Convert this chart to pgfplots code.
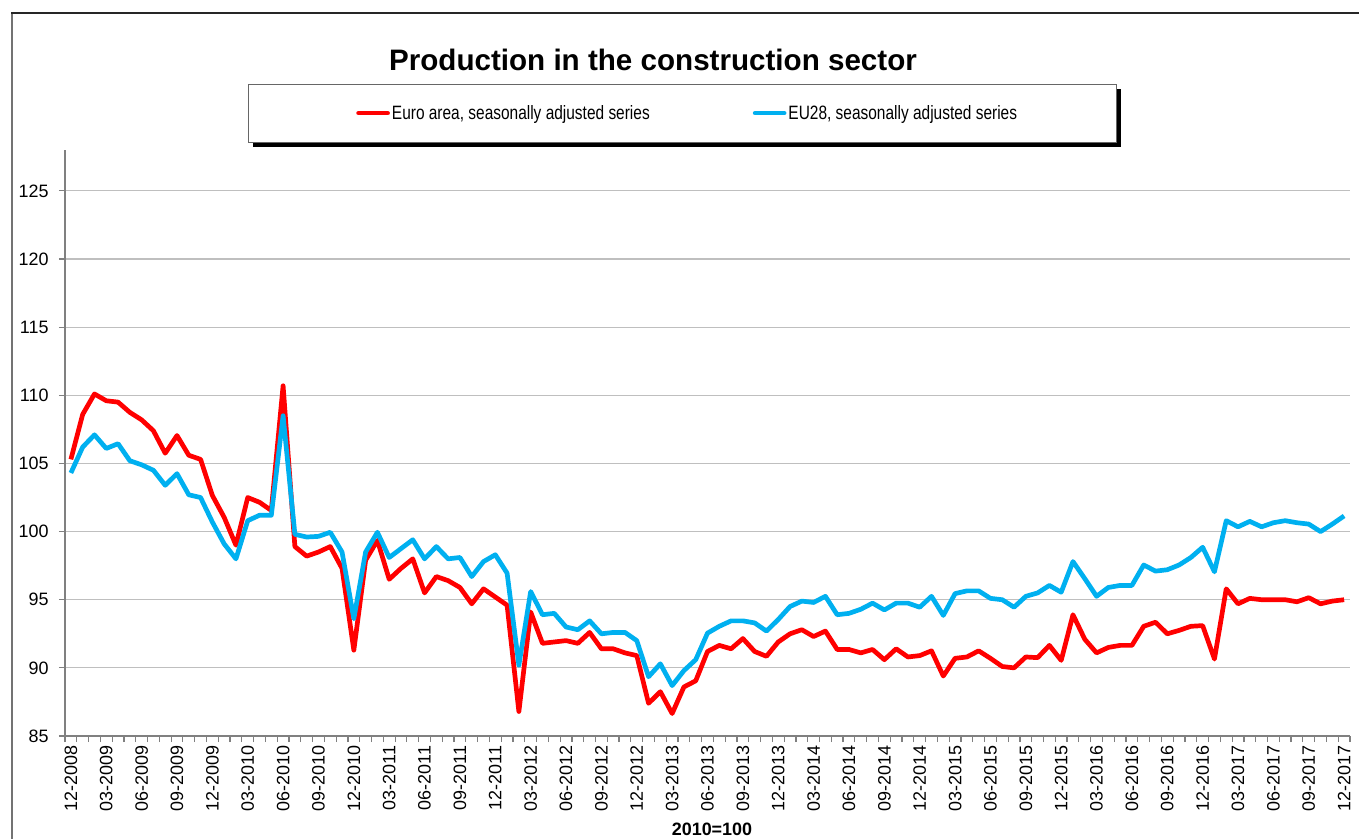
\documentclass[border=0pt]{standalone}
\usepackage{fontspec}
\setmainfont{Liberation Sans}
\newfontfamily\narrowfont[FakeStretch=0.8]{Liberation Sans}
\usepackage{pgfplots}
\pgfplotsset{compat=1.18}
\usepackage{pgfplotstable}
\definecolor{eared}{RGB}{255,0,0}
\definecolor{eublue}{RGB}{0,176,240}

\pgfplotstableread{
i ea eu
0 105.3 104.3
1 108.6 106.2
2 110.1 107.1
3 109.6 106.1
4 109.5 106.45
5 108.75 105.2
6 108.2 104.9
7 107.4 104.5
8 105.75 103.4
9 107.05 104.25
10 105.6 102.7
11 105.3 102.5
12 102.65 100.7
13 101.05 99.1
14 99.0 98.0
15 102.5 100.8
16 102.15 101.2
17 101.55 101.2
18 110.7 108.5
19 98.9 99.8
20 98.2 99.6
21 98.5 99.65
22 98.9 99.95
23 97.3 98.5
24 91.3 93.6
25 97.9 98.5
26 99.35 99.95
27 96.5 98.1
28 97.3 98.75
29 98.0 99.4
30 95.5 98.0
31 96.7 98.9
32 96.4 98.0
33 95.9 98.1
34 94.7 96.7
35 95.8 97.8
36 95.2 98.3
37 94.6 96.95
38 86.8 90.2
39 94.1 95.6
40 91.8 93.9
41 91.9 94.0
42 92.0 93.0
43 91.8 92.8
44 92.6 93.45
45 91.4 92.5
46 91.4 92.6
47 91.1 92.6
48 90.9 92.0
49 87.4 89.35
50 88.25 90.3
51 86.65 88.7
52 88.6 89.8
53 89.05 90.6
54 91.2 92.55
55 91.65 93.05
56 91.4 93.45
57 92.15 93.45
58 91.2 93.3
59 90.85 92.7
60 91.9 93.55
61 92.5 94.5
62 92.8 94.9
63 92.3 94.8
64 92.7 95.25
65 91.35 93.9
66 91.35 94.0
67 91.1 94.3
68 91.35 94.75
69 90.6 94.25
70 91.4 94.75
71 90.8 94.75
72 90.9 94.45
73 91.25 95.25
74 89.4 93.85
75 90.7 95.45
76 90.8 95.65
77 91.25 95.65
78 90.7 95.1
79 90.1 95.0
80 90.0 94.45
81 90.8 95.25
82 90.75 95.5
83 91.65 96.05
84 90.55 95.55
85 93.9 97.8
86 92.1 96.55
87 91.1 95.25
88 91.5 95.9
89 91.65 96.05
90 91.65 96.05
91 93.05 97.55
92 93.35 97.1
93 92.5 97.2
94 92.75 97.55
95 93.05 98.1
96 93.1 98.85
97 90.65 97.05
98 95.8 100.8
99 94.7 100.35
100 95.1 100.75
101 95.0 100.35
102 95.0 100.65
103 95.0 100.8
104 94.85 100.65
105 95.15 100.55
106 94.7 100.0
107 94.9 100.55
108 95.0 101.15
}\datatable

\begin{document}
\begin{tikzpicture}
\useasboundingbox (0,0) rectangle (1359bp,-839bp);
\fill[white] (0,0) rectangle (1359bp,-839bp);
\draw[black!55, line width=1.5bp] (12bp,-839bp) -- (12bp,-13bp);
\draw[black!85, line width=1.5bp] (11.25bp,-13bp) -- (1359bp,-13bp);
\node[font=\fontsize{29.7}{34}\selectfont\bfseries] at (653bp,-60bp) {Production in the construction sector};
\fill[black] (253bp,-89bp) rectangle (1121bp,-147bp);
\filldraw[fill=white, draw=black!60, line width=0.8bp] (248bp,-84bp) rectangle (1116bp,-142bp);
\node[font=\fontsize{18}{20}\selectfont\bfseries] at (712bp,-829bp) {2010=100};
\begin{axis}[
  scale only axis, width=1285bp, height=586bp,
  at={(65bp,-736bp)}, anchor=south west,
  xmin=-0.5, xmax=108.5, ymin=85, ymax=128,
  axis x line=bottom, axis y line=left,
  axis line style={-, draw=black!50, line width=1.5bp},
  tick align=outside,
  major tick length=6bp, minor tick length=6bp,
  tick style={draw=black!50, line width=1.2bp},
  major x tick style={draw=none},
  xtick={0,3,...,108},
  minor xtick={-0.5,0.5,...,108.5},
  xticklabels={12-2008,03-2009,06-2009,09-2009,12-2009,03-2010,06-2010,09-2010,12-2010,03-2011,06-2011,09-2011,12-2011,03-2012,06-2012,09-2012,12-2012,03-2013,06-2013,09-2013,12-2013,03-2014,06-2014,09-2014,12-2014,03-2015,06-2015,09-2015,12-2015,03-2016,06-2016,09-2016,12-2016,03-2017,06-2017,09-2017,12-2017},
  xticklabel style={rotate=90, anchor=east, font=\fontsize{18}{20}\selectfont},
  ytick={85,90,...,125},
  yticklabel style={font=\fontsize{18}{20}\selectfont, xshift=-7bp},
  /pgf/number format/assume math mode=true,
  ymajorgrids, grid style={black!25, line width=1.2bp},
  legend columns=2,
  legend style={at={(0.2265,1.063)}, anchor=west, draw=none, fill=none,
    font=\narrowfont\fontsize{19.4}{22}\selectfont, inner sep=0pt,
    /tikz/every even column/.append style={column sep=101bp}},
  legend image code/.code={\draw[#1, line width=4.7bp, line cap=round] (0bp,0bp) -- (29bp,0bp);},
]
\addplot[eared, line width=4.7bp, line join=round] table[x=i, y=ea] {\datatable};
\addlegendentry{Euro area, seasonally adjusted series}
\addplot[eublue, line width=4.7bp, line join=round] table[x=i, y=eu] {\datatable};
\addlegendentry{EU28, seasonally adjusted series}
\end{axis}
\end{tikzpicture}
\end{document}
